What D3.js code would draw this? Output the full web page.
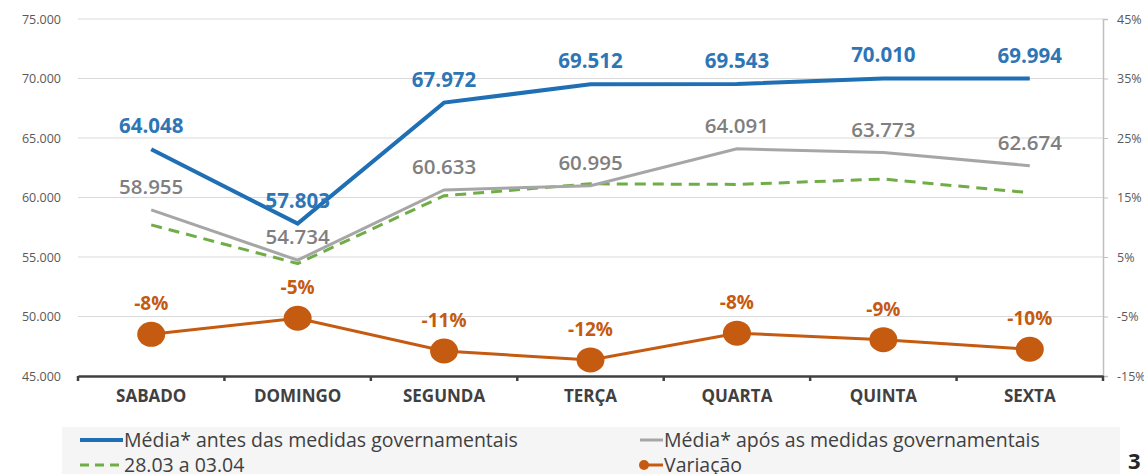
<!DOCTYPE html>
<html>
<head>
<meta charset="utf-8">
<script src="https://cdn.jsdelivr.net/npm/d3@7"></script>
<style>
  body { margin: 0; background: #fff; }
  svg { display: block; font-family: "Open Sans", sans-serif; }
</style>
</head>
<body>
<div id="chart"></div>
<script>
// Days of the week
const dias = ["SABADO", "DOMINGO", "SEGUNDA", "TERÇA", "QUARTA", "QUINTA", "SEXTA"];

// Média antes das medidas governamentais
const antes = [64048, 57803, 67972, 69512, 69543, 70010, 69994];

// Média após as medidas governamentais
const apos = [58955, 54734, 60633, 60995, 64091, 63773, 62674];

// Semana 28.03 a 03.04 (no labels)
const semana = [57700, 54450, 60150, 61150, 61100, 61550, 60400];

// Variação (%)
const variacao = [-8.0, -5.3, -10.8, -12.3, -7.8, -8.9, -10.5];

// Axis ticks
const leftTicks = [45000, 50000, 55000, 60000, 65000, 70000, 75000];
const rightTicks = [-15, -5, 5, 15, 25, 35, 45];

const W = 1144, H = 474;
const margin = {top: 19, right: 41, bottom: 98, left: 78};
const FONT = "'Open Sans', sans-serif";

const ptBR = d3.formatLocale({decimal: ",", thousands: ".", grouping: [3], currency: ["R$", ""]});
const fmtNum = ptBR.format(",");

const svg = d3.select("#chart")
    .append("svg")
    .attr("width", W)
    .attr("height", H);

// Scales
const x = d3.scaleBand().domain(dias).range([margin.left, W - margin.right]).padding(0);
const y = d3.scaleLinear().domain([45000, 75000]).range([H - margin.bottom, margin.top]);
const y2 = d3.scaleLinear().domain([-15, 45]).range([H - margin.bottom, margin.top]);
const cx = d => x(d) + x.bandwidth() / 2;

// Gridlines
svg.append("g")
    .selectAll("line")
    .data(leftTicks.slice(1))
    .join("line")
    .attr("x1", margin.left)
    .attr("x2", W - margin.right)
    .attr("y1", d => y(d))
    .attr("y2", d => y(d))
    .attr("stroke", "#d9d9d9")
    .attr("stroke-width", 1);

// Left axis (labels only)
const leftAxis = svg.append("g")
    .attr("transform", `translate(${margin.left - 17},0)`)
    .call(d3.axisLeft(y).tickValues(leftTicks).tickFormat(fmtNum).tickSize(0).tickPadding(0))
    .attr("font-family", FONT);
leftAxis.select(".domain").remove();
leftAxis.selectAll("text")
    .attr("fill", "#595959")
    .style("font-size", "12.5px");

// Right axis
const rightAxis = svg.append("g")
    .attr("transform", `translate(${W - margin.right},0)`)
    .call(d3.axisRight(y2).tickValues(rightTicks).tickFormat(d => d + "%").tickSize(5).tickPadding(9))
    .attr("font-family", FONT);
rightAxis.select(".domain").attr("stroke", "#bfbfbf").attr("stroke-width", 1.5);
rightAxis.selectAll(".tick line").attr("stroke", "#bfbfbf");
rightAxis.selectAll("text")
    .attr("fill", "#595959")
    .style("font-size", "12.5px");

// Bottom axis
const bottomAxis = svg.append("g")
    .attr("transform", `translate(0,${H - margin.bottom})`)
    .call(d3.axisBottom(x).tickSize(0).tickPadding(14))
    .attr("font-family", FONT);
bottomAxis.select(".domain").attr("stroke", "#404040").attr("stroke-width", 2.5);
bottomAxis.selectAll("text")
    .attr("fill", "#404040")
    .style("font-size", "17px")
    .style("font-weight", "bold");
// tick marks at band boundaries
bottomAxis.selectAll(".sep")
    .data(dias.concat(["_end"]))
    .join("line")
    .attr("class", "sep")
    .attr("x1", (d, i) => i < dias.length ? x(d) : x(dias[dias.length - 1]) + x.bandwidth())
    .attr("x2", (d, i) => i < dias.length ? x(d) : x(dias[dias.length - 1]) + x.bandwidth())
    .attr("y1", 0)
    .attr("y2", 5)
    .attr("stroke", "#404040")
    .attr("stroke-width", 2.5);

// Line generators
const lineLeft = d3.line().x((d, i) => cx(dias[i])).y(d => y(d));
const lineRight = d3.line().x((d, i) => cx(dias[i])).y(d => y2(d));

// Green dashed (28.03 a 03.04)
svg.append("path")
    .datum(semana)
    .attr("d", lineLeft)
    .attr("fill", "none")
    .attr("stroke", "#70ad47")
    .attr("stroke-width", 3)
    .attr("stroke-dasharray", "11,7");

// Grey (após)
svg.append("path")
    .datum(apos)
    .attr("d", lineLeft)
    .attr("fill", "none")
    .attr("stroke", "#a6a6a6")
    .attr("stroke-width", 3);

// Blue (antes)
svg.append("path")
    .datum(antes)
    .attr("d", lineLeft)
    .attr("fill", "none")
    .attr("stroke", "#1f6fb5")
    .attr("stroke-width", 4);

// Orange (variação)
svg.append("path")
    .datum(variacao)
    .attr("d", lineRight)
    .attr("fill", "none")
    .attr("stroke", "#c55a11")
    .attr("stroke-width", 3);

svg.append("g")
    .selectAll("ellipse")
    .data(variacao)
    .join("ellipse")
    .attr("cx", (d, i) => cx(dias[i]))
    .attr("cy", d => y2(d))
    .attr("rx", 14)
    .attr("ry", 12.5)
    .attr("fill", "#c55a11");

// Data labels
svg.append("g")
    .selectAll("text")
    .data(apos)
    .join("text")
    .attr("x", (d, i) => cx(dias[i]))
    .attr("y", d => y(d) - 16)
    .attr("text-anchor", "middle")
    .attr("fill", "#7f7f7f")
    .style("font-size", "20.5px")
    .style("font-weight", 600)
    .text(d => fmtNum(d));

svg.append("g")
    .selectAll("text")
    .data(antes)
    .join("text")
    .attr("x", (d, i) => cx(dias[i]))
    .attr("y", d => y(d) - 16)
    .attr("text-anchor", "middle")
    .attr("fill", "#2e75b6")
    .style("font-size", "20.5px")
    .style("font-weight", "bold")
    .text(d => fmtNum(d));

svg.append("g")
    .selectAll("text")
    .data(variacao)
    .join("text")
    .attr("x", (d, i) => cx(dias[i]))
    .attr("y", d => y2(d) - 24)
    .attr("text-anchor", "middle")
    .attr("fill", "#c55a11")
    .style("font-size", "19px")
    .style("font-weight", "bold")
    .text(d => Math.round(d) + "%");

// Legend
const legend = svg.append("g");
legend.append("rect")
    .attr("x", 62)
    .attr("y", 427)
    .attr("width", 1058)
    .attr("height", 47)
    .attr("fill", "#f5f5f5");

const items = [
    {label: "Média* antes das medidas governamentais", color: "#1f6fb5", x: 80, y: 440, w: 4, dash: null, dot: false},
    {label: "Média* após as medidas governamentais", color: "#a6a6a6", x: 640, y: 440, w: 3, dash: null, dot: false},
    {label: "28.03 a 03.04", color: "#70ad47", x: 80, y: 465, w: 3, dash: "9,6", dot: false},
    {label: "Variação", color: "#c55a11", x: 640, y: 465, w: 3, dash: null, dot: true}
];
items.forEach(it => {
    const len = it.x === 80 ? 43 : 23;
    legend.append("line")
        .attr("x1", it.x)
        .attr("x2", it.x + len)
        .attr("y1", it.y)
        .attr("y2", it.y)
        .attr("stroke", it.color)
        .attr("stroke-width", it.w)
        .attr("stroke-dasharray", it.dash);
    if (it.dot) {
        legend.append("circle")
            .attr("cx", it.x + 4)
            .attr("cy", it.y)
            .attr("r", 5)
            .attr("fill", it.color);
    }
    legend.append("text")
        .attr("x", it.x + len + 1)
        .attr("y", it.y + 7)
        .attr("fill", "#404040")
        .style("font-size", "19.5px")
        .text(it.label);
});

// Page number
svg.append("text")
    .attr("x", 1128)
    .attr("y", 469)
    .attr("fill", "#262626")
    .style("font-size", "22px")
    .style("font-weight", "bold")
    .text("3");
</script>
</body>
</html>
